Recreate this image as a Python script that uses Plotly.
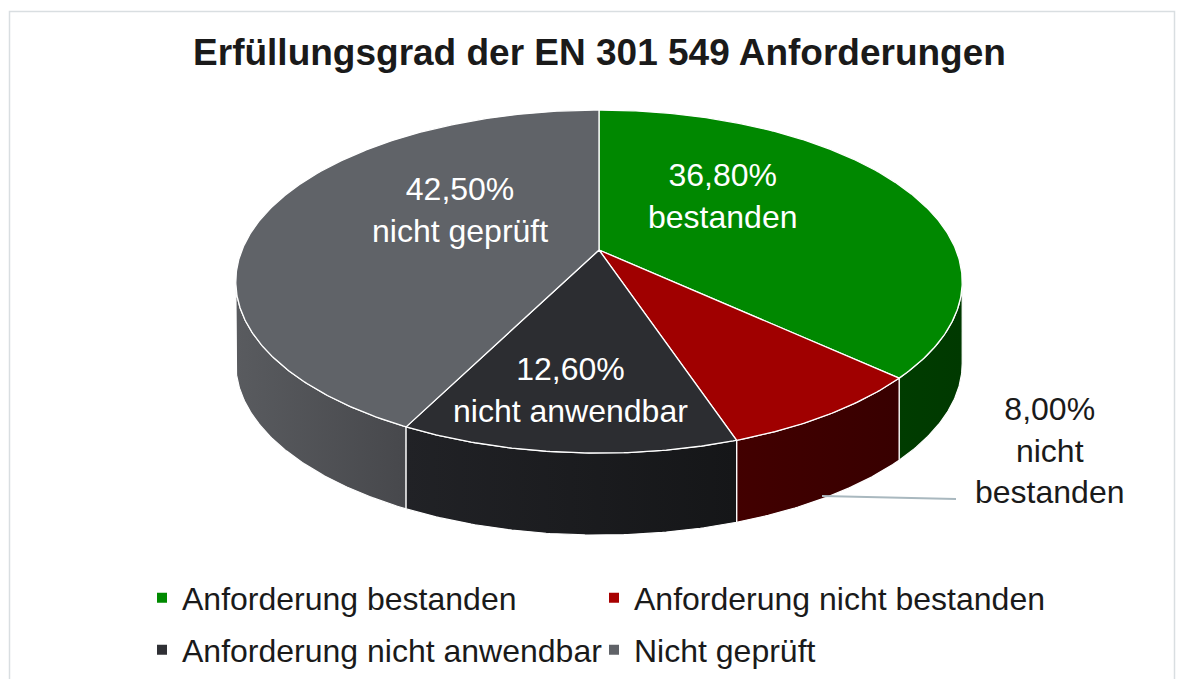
import numpy as np
import plotly.graph_objects as go

# ---------------- data ----------------
categories = ["Anforderung bestanden", "Anforderung nicht bestanden",
              "Anforderung nicht anwendbar", "Nicht geprüft"]
values = [36.8, 8.0, 12.6, 42.5]
label_texts = ["36,80%<br>bestanden", "8,00%<br>nicht<br>bestanden",
               "12,60%<br>nicht anwendbar", "42,50%<br>nicht geprüft"]
title_text = "Erfüllungsgrad der EN 301 549 Anforderungen"

# ---------------- styles ----------------
top_colors = ["#008800", "#a00000", "#2c2d31", "#606368"]
side_scales = [["#003c00", "#003900"], ["#420000", "#380000"],
               ["#212226", "#151618"], ["#595b5f", "#47484c"]]
legend_colors = ["#008a00", "#a80000", "#2f3035", "#606368"]
label_colors = ["white", "#1a1a1a", "white", "white"]
label_pos = [(722, 196), (1049, 450), (570, 390), (460, 210)]
FONT = "Liberation Sans, Arial, sans-serif"

W, H = 1183, 679
# 3D pie geometry (pixel space of the axes)
cx, cy = 599, 250
Rx, Ry = 357, 165.7
persp = 0.184
depth = 82


def proj(theta, drop=0.0):
    X = np.sin(theta)
    Z = -np.cos(theta)
    w = 1 - persp * Z
    return cx + Rx * X / w, cy + Ry * Z / w + drop


vals = np.array(values, dtype=float)
frac = vals / vals.sum()
edges = np.concatenate([[0], np.cumsum(frac)]) * 2 * np.pi

th_r = np.arccos(-persp)
th_l = 2 * np.pi - th_r

fig = go.Figure()

# side faces
order = sorted(range(len(vals)), key=lambda i: -abs(((edges[i] + edges[i + 1]) / 2) - np.pi))
for i in order:
    s0 = max(edges[i], th_r)
    s1 = min(edges[i + 1], th_l)
    if s1 <= s0:
        continue
    n = max(int(np.degrees(s1 - s0) * 2), 4)
    t = np.linspace(s0, s1, n)
    xt, yt = proj(t)
    xb, yb = proj(t[::-1], depth)
    xs = np.concatenate([xt, xb, xt[:1]])
    ys = np.concatenate([yt, yb, yt[:1]])
    fig.add_trace(go.Scatter(
        x=xs, y=ys, mode="lines", fill="toself",
        fillgradient=dict(type="horizontal",
                          colorscale=[[0, side_scales[i][0]], [1, side_scales[i][1]]]),
        line=dict(color="white", width=1.2),
        hoverinfo="skip", showlegend=False))

# top faces
for i in range(len(vals)):
    a0, a1 = edges[i], edges[i + 1]
    n = max(int(np.degrees(a1 - a0) * 2), 4)
    t = np.linspace(a0, a1, n)
    xa, ya = proj(t)
    xs = np.concatenate([[cx], xa, [cx]])
    ys = np.concatenate([[cy], ya, [cy]])
    fig.add_trace(go.Scatter(
        x=xs, y=ys, mode="lines", fill="toself", fillcolor=top_colors[i],
        line=dict(color="white", width=1.3),
        hoverinfo="text", text=f"{categories[i]}: {values[i]:.1f}%",
        showlegend=False))

# legend entries
for i, cat in enumerate(categories):
    fig.add_trace(go.Scatter(
        x=[None], y=[None], mode="markers", name=cat,
        marker=dict(symbol="square", size=10, color=legend_colors[i]),
        legend="legend" if i < 2 else "legend2"))

# data labels
for i in range(len(vals)):
    fig.add_annotation(x=label_pos[i][0], y=label_pos[i][1], text=label_texts[i],
                       showarrow=False, xanchor="center", yanchor="middle",
                       font=dict(family=FONT, size=32, color=label_colors[i]))

# leader line for the outside label
fig.add_shape(type="line", x0=822, y0=496, x1=956, y1=499,
              line=dict(color="#a9b8bf", width=2))

# chart border
fig.add_shape(type="rect", xref="paper", yref="paper",
              x0=9.5 / W, x1=1174.5 / W, y0=-0.05, y1=1 - 11.5 / H,
              line=dict(color="#d9dee1", width=1.5), layer="below")

legend_common = dict(orientation="h", font=dict(family=FONT, size=32, color="#1a1a1a"),
                     entrywidth=407, entrywidthmode="pixels",
                     xanchor="left", yanchor="middle", bgcolor="rgba(0,0,0,0)",
                     itemsizing="trace")

fig.update_layout(
    width=W, height=H,
    margin=dict(l=0, r=0, t=0, b=0),
    paper_bgcolor="white", plot_bgcolor="white",
    title=dict(text=title_text, x=599.5 / W, xanchor="center",
               y=1 - 52 / H, yanchor="middle", xref="paper", yref="container",
               font=dict(family=FONT, size=37, color="#1a1a1a", weight="bold")),
    xaxis=dict(range=[0, W], visible=False, fixedrange=True),
    yaxis=dict(range=[H, 0], visible=False, fixedrange=True),
    legend=dict(x=142 / W, y=1 - 598 / H, **legend_common),
    legend2=dict(x=142 / W, y=1 - 650 / H, **legend_common),
    showlegend=True,
)

fig.write_html("out.html")
